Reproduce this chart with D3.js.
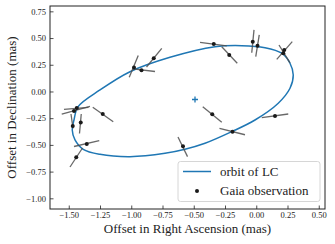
<!DOCTYPE html>
<html>
<head>
<meta charset="utf-8">
<script src="https://cdn.jsdelivr.net/npm/d3@7"></script>
<style>
  body { margin: 0; background: #fff; }
  svg text { font-family: "Liberation Serif", "DejaVu Serif", serif; fill: #222; }
</style>
</head>
<body>
<div class="container"></div>
<script>
// orbit of LC (mas)
const orbitRA  = [-1.472, -1.458, -1.425, -1.250, -1.010, -0.690, -0.330, -0.116, 0.070, 0.204, 0.270, 0.296,
                  0.270, 0.176, -0.010, -0.196, -0.410, -0.570, -0.730, -1.010, -1.250, -1.384, -1.450];
const orbitDec = [-0.360, -0.267, -0.142, 0.014, 0.185, 0.320, 0.419, 0.429, 0.410, 0.358, 0.264, 0.154,
                  0.030, -0.110, -0.267, -0.376, -0.485, -0.541, -0.579, -0.610, -0.588, -0.541, -0.453];

// Gaia observations (mas)
const obsRA  = [-1.458, -1.436, -1.228, -1.468, -1.404, -1.356, -1.440, -0.978, -0.918, -0.820,
                -0.340, -0.216, -0.028, 0.010, 0.216, 0.224, -0.352, -0.190, 0.150, -0.586];
const obsDec = [-0.183, -0.154, -0.211, -0.323, -0.290, -0.492, -0.616, 0.225, 0.199, 0.311,
                0.445, 0.342, 0.466, 0.428, 0.358, 0.389, -0.213, -0.376, -0.229, -0.513];
// scan-direction error segments: start and end (mas)
const errRA1  = [-1.556, -1.538, -1.308, -1.482, -1.400, -1.458, -1.490, -1.016, -0.986, -0.878,
                 -0.450, -0.276, -0.018, 0.024, 0.164, 0.182, -0.428, -0.294, 0.044, -0.626];
const errDec1 = [-0.211, -0.167, -0.148, -0.211, -0.211, -0.515, -0.707, 0.133, 0.211, 0.229,
                 0.459, 0.419, 0.576, 0.529, 0.301, 0.435, -0.142, -0.346, -0.245, -0.426];
const errRA2  = [-1.330, -1.342, -1.144, -1.466, -1.414, -1.256, -1.390, -0.944, -0.810, -0.756,
                 -0.236, -0.152, -0.036, -0.004, 0.288, 0.270, -0.276, -0.090, 0.256, -0.550];
const errDec2 = [-0.140, -0.148, -0.283, -0.346, -0.393, -0.459, -0.529, 0.337, 0.187, 0.404,
                 0.426, 0.264, 0.363, 0.326, 0.466, 0.267, -0.288, -0.405, -0.211, -0.610];

// centre marker
const centreRA = [-0.49];
const centreDec = [-0.075];

const xTicks = [-1.5, -1.25, -1.0, -0.75, -0.5, -0.25, 0.0, 0.25, 0.5];
const yTicks = [-1.0, -0.75, -0.5, -0.25, 0.0, 0.25, 0.5, 0.75];
const legendLabels = ["orbit of LC", "Gaia observation"];

const W = 335, H = 244;
const margin = { top: 6, right: 10, bottom: 35, left: 50 };
const width = W - margin.left - margin.right,
      height = H - margin.top - margin.bottom;

const blue = "#1f77b4";

const svg = d3.select("div.container").append("svg")
    .attr("width", W).attr("height", H);
const g = svg.append("g").attr("transform", `translate(${margin.left},${margin.top})`);

const x = d3.scaleLinear().domain([-1.65, 0.55]).range([0, width]);
const y = d3.scaleLinear().domain([-1.1, 0.8]).range([height, 0]);

const fmt = d3.format(".2f");

//axes with inward ticks
const xAxis = g.append("g").attr("transform", `translate(0,${height})`)
    .call(d3.axisBottom(x).tickValues(xTicks).tickFormat(fmt).tickSizeInner(-3.5).tickSizeOuter(0).tickPadding(3));
const yAxis = g.append("g")
    .call(d3.axisLeft(y).tickValues(yTicks).tickFormat(fmt).tickSizeInner(-3.5).tickSizeOuter(0).tickPadding(4));
[xAxis, yAxis].forEach(a => {
    a.select(".domain").remove();
    a.selectAll(".tick line").attr("stroke", "#222").attr("stroke-width", 0.8);
    a.selectAll(".tick text").style("font-size", "8.5px").attr("fill", "#222");
});

//orbit
const orbit = orbitRA.map((d, i) => [d, orbitDec[i]]);
g.append("path")
    .datum(orbit)
    .attr("fill", "none")
    .attr("stroke", blue)
    .attr("stroke-width", 1.5)
    .attr("d", d3.line().x(d => x(d[0])).y(d => y(d[1])).curve(d3.curveCatmullRomClosed));

//error segments
g.selectAll("line.err")
    .data(obsRA)
    .enter()
    .append("line")
    .attr("class", "err")
    .attr("x1", (d, i) => x(errRA1[i]))
    .attr("y1", (d, i) => y(errDec1[i]))
    .attr("x2", (d, i) => x(errRA2[i]))
    .attr("y2", (d, i) => y(errDec2[i]))
    .attr("stroke", "#4d4d4d")
    .attr("stroke-opacity", 0.85)
    .attr("stroke-width", 1.3);

//observations
g.selectAll("circle.obs")
    .data(obsRA)
    .enter()
    .append("circle")
    .attr("class", "obs")
    .attr("cx", d => x(d))
    .attr("cy", (d, i) => y(obsDec[i]))
    .attr("r", 2)
    .attr("fill", "#1a1a1a");

//centre "+"
const cx = x(centreRA[0]), cy = y(centreDec[0]);
g.append("path")
    .attr("d", `M${cx - 3},${cy}H${cx + 3}M${cx},${cy - 3}V${cy + 3}`)
    .attr("stroke", blue)
    .attr("stroke-width", 1.3);

//frame
g.append("rect")
    .attr("width", width).attr("height", height)
    .attr("fill", "none").attr("stroke", "#222").attr("stroke-width", 1);

//axis labels
svg.append("text")
    .attr("x", margin.left + width / 2)
    .attr("y", 233)
    .attr("text-anchor", "middle")
    .style("font-size", "13px")
    .text("Offset in Right Ascension (mas)");
svg.append("text")
    .attr("transform", `translate(16,${margin.top + height / 2}) rotate(-90)`)
    .attr("text-anchor", "middle")
    .style("font-size", "13px")
    .text("Offset in Declination (mas)");

//legend
const legend = svg.append("g").attr("transform", "translate(178,161.5)");
legend.append("rect")
    .attr("width", 142).attr("height", 40).attr("rx", 2.5)
    .attr("fill", "#fff").attr("fill-opacity", 0.8)
    .attr("stroke", "#ccc").attr("stroke-width", 0.8);
legend.append("line")
    .attr("x1", 5).attr("x2", 33).attr("y1", 10).attr("y2", 10)
    .attr("stroke", blue).attr("stroke-width", 1.5);
legend.append("circle")
    .attr("cx", 19).attr("cy", 29.5).attr("r", 2).attr("fill", "#1a1a1a");
legend.selectAll("text.lab")
    .data(legendLabels)
    .enter()
    .append("text")
    .attr("class", "lab")
    .attr("x", 42)
    .attr("y", (d, i) => 14.5 + i * 19)
    .style("font-size", "13px")
    .text(d => d);
</script>
</body>
</html>
